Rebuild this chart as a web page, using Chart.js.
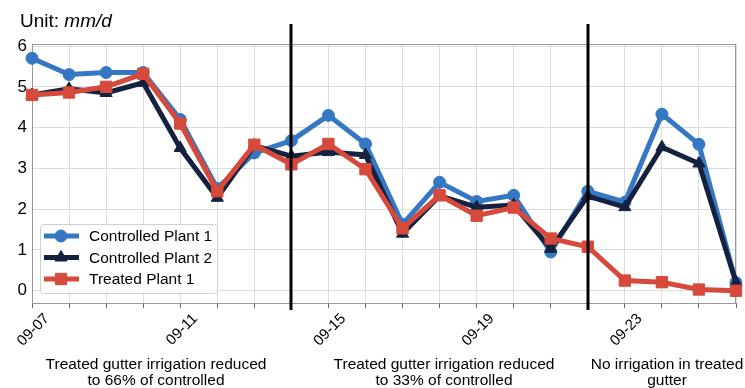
<!DOCTYPE html>
<html>
<head>
<meta charset="utf-8">
<script src="https://cdn.jsdelivr.net/npm/chart.js@4/dist/chart.umd.min.js"></script>
<style>
  html, body { margin: 0; padding: 0; background: #fff; }
  #wrap { width: 745px; height: 388px; position: relative; }
</style>
</head>
<body>
<div id="wrap"><canvas id="evapChart"></canvas></div>
<script>
const dayLabels = ['09-07', '09-08', '09-09', '09-10', '09-11', '09-12', '09-13', '09-14', '09-15', '09-16',
                   '09-17', '09-18', '09-19', '09-20', '09-21', '09-22', '09-23', '09-24', '09-25', '09-26'];
const controlledPlant1 = [5.70, 5.30, 5.35, 5.35, 4.20, 2.51, 3.38, 3.68, 4.30, 3.60,
                          1.63, 2.66, 2.19, 2.34, 0.95, 2.44, 2.17, 4.33, 3.59, 0.20];
const controlledPlant2 = [4.80, 4.95, 4.85, 5.10, 3.50, 2.28, 3.56, 3.30, 3.40, 3.33,
                          1.40, 2.33, 2.05, 2.10, 1.03, 2.32, 2.05, 3.52, 3.12, 0.20];
const treatedPlant1 = [4.80, 4.86, 5.00, 5.32, 4.10, 2.44, 3.58, 3.10, 3.60, 2.98,
                       1.53, 2.34, 1.84, 2.04, 1.28, 1.08, 0.25, 0.21, 0.03, 0.00];
const yTicks = [0, 1, 2, 3, 4, 5, 6];
const phaseBreaks = ['09-14', '09-22'];
const phaseNotes = [
    ['Treated gutter irrigation reduced', 'to 66% of controlled'],
    ['Treated gutter irrigation reduced', 'to 33% of controlled'],
    ['No irrigation in treated', 'gutter']
];

const FONT = '"Liberation Sans", Arial, Helvetica, sans-serif';
const BLUE = '#3677c4';
const NAVY = '#15223f';
const RED = '#d64a3b';

// frame, phase lines, notes, legend, unit label
const decorPlugin = {
    id: 'decor',
    beforeDatasetsDraw(chart) {
        const { ctx, chartArea: a } = chart;
        ctx.save();
        ctx.strokeStyle = '#999';
        ctx.lineWidth = 1;
        ctx.strokeRect(a.left + 0.5, a.top + 0.5, a.right - a.left - 1, a.bottom - a.top);
        ctx.restore();
    },
    afterDraw(chart) {
        const { ctx } = chart;
        const x = chart.scales.x;
        ctx.save();

        // phase separators
        ctx.strokeStyle = '#000';
        ctx.lineWidth = 3;
        phaseBreaks.forEach(d => {
            const px = Math.round(x.getPixelForValue(dayLabels.indexOf(d)));
            ctx.beginPath();
            ctx.moveTo(px, 24);
            ctx.lineTo(px, 310);
            ctx.stroke();
        });

        // notes under the axis
        const noteX = [156, 444, 667];
        ctx.fillStyle = '#000';
        ctx.font = '15.5px ' + FONT;
        ctx.textAlign = 'center';
        ctx.textBaseline = 'middle';
        phaseNotes.forEach((lines, i) => {
            lines.forEach((t, j) => ctx.fillText(t, noteX[i], 365 + j * 16));
        });

        // unit label
        ctx.textAlign = 'left';
        ctx.font = '19px ' + FONT;
        ctx.fillText('Unit: ', 20, 22);
        const w = ctx.measureText('Unit: ').width;
        ctx.font = 'italic 19px ' + FONT;
        ctx.fillText('mm/d', 20 + w, 22);

        // legend box
        const lx = 40, ly = 224, lw = 177, lh = 69;
        ctx.fillStyle = 'rgba(255,255,255,0.85)';
        ctx.strokeStyle = '#d0d0d0';
        ctx.lineWidth = 1;
        ctx.beginPath();
        ctx.roundRect(lx + 0.5, ly + 0.5, lw, lh, 3);
        ctx.fill();
        ctx.stroke();

        chart.data.datasets.forEach((ds, i) => {
            const cy = ly + 12 + i * 21.5;
            ctx.strokeStyle = ds.borderColor;
            ctx.lineWidth = 5;
            ctx.beginPath();
            ctx.moveTo(44, cy);
            ctx.lineTo(79, cy);
            ctx.stroke();
            ctx.lineWidth = 1;
            ctx.fillStyle = ds.borderColor;
            Chart.helpers.drawPoint(ctx, {
                pointStyle: ds.pointStyle,
                radius: ds.pointRadius,
                rotation: 0,
                borderWidth: 1
            }, 61, cy);
            ctx.fillStyle = '#000';
            ctx.font = '15.5px ' + FONT;
            ctx.textAlign = 'left';
            ctx.textBaseline = 'middle';
            ctx.fillText(ds.label, 89, cy + 1);
        });

        ctx.restore();
    }
};

function makeDataset(label, data, color, style, radius, order) {
    return {
        label: label,
        data: data,
        borderColor: color,
        backgroundColor: color,
        pointBackgroundColor: color,
        pointBorderColor: color,
        borderWidth: 5,
        pointStyle: style,
        pointRadius: radius,
        pointBorderWidth: 1,
        tension: 0,
        order: order
    };
}

new Chart(document.getElementById('evapChart'), {
    type: 'line',
    data: {
        labels: dayLabels,
        datasets: [
            makeDataset('Controlled Plant 1', controlledPlant1, BLUE, 'circle', 6, 3),
            makeDataset('Controlled Plant 2', controlledPlant2, NAVY, 'triangle', 7, 2),
            makeDataset('Treated Plant 1', treatedPlant1, RED, 'rect', 8, 1)
        ]
    },
    options: {
        responsive: true,
        maintainAspectRatio: false,
        animation: false,
        layout: { padding: { top: 44, right: 9, left: 0, bottom: 0 } },
        plugins: {
            legend: { display: false },
            tooltip: { enabled: false }
        },
        scales: {
            x: {
                type: 'category',
                offset: false,
                grid: { color: '#dcdcdc', tickLength: 5, tickColor: '#666', offset: false },
                border: { color: '#777', width: 1 },
                ticks: {
                    autoSkip: false,
                    maxRotation: 45,
                    minRotation: 45,
                    padding: 2,
                    labelOffset: 15,
                    color: '#000',
                    font: { size: 15, family: FONT },
                    callback: (v, i) => (i % 4 === 0 ? dayLabels[i] : '')
                },
                afterFit: s => {
                    s.height = 85;
                    s.paddingLeft = 0;
                    s.paddingRight = 0;
                }
            },
            y: {
                min: -0.3,
                max: 6.05,
                grid: { color: '#dcdcdc', tickLength: 0 },
                border: { color: '#777', width: 1 },
                afterBuildTicks: s => { s.ticks = yTicks.map(v => ({ value: v })); },
                ticks: {
                    padding: 5,
                    color: '#000',
                    font: { size: 17, family: FONT }
                },
                afterFit: s => {
                    s.width = 32;
                    s.paddingTop = 0;
                    s.paddingBottom = 0;
                }
            }
        }
    },
    plugins: [decorPlugin]
});
</script>
</body>
</html>
